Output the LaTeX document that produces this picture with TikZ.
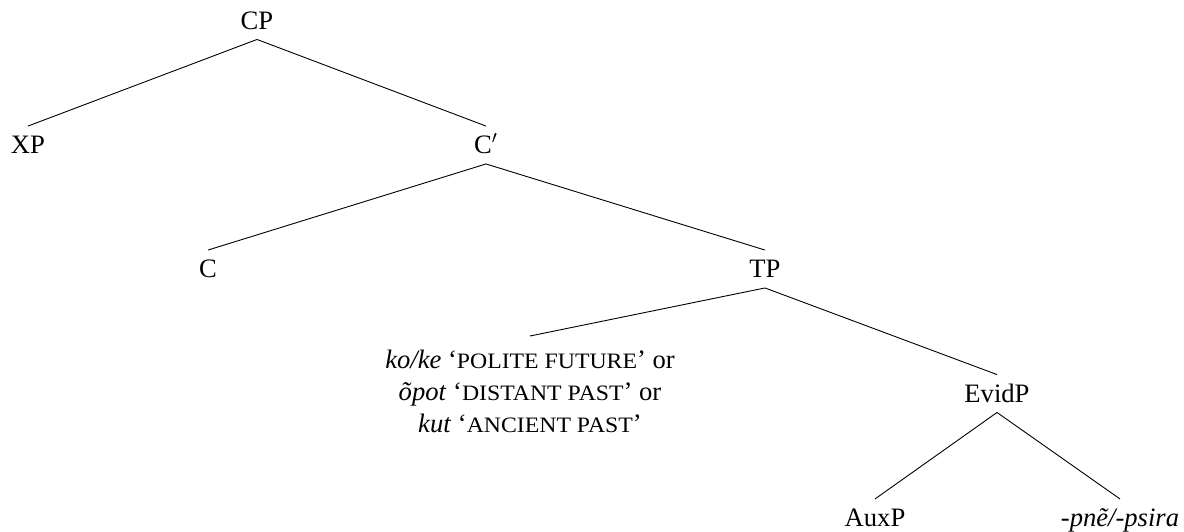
\documentclass[tikz,border=0pt]{standalone}
\usepackage{graphicx}
\usepackage{fontspec}
\setmainfont{Liberation Serif}
\usetikzlibrary{positioning}
\newcommand{\fakesc}[1]{\scalebox{1.08}[1]{\fontsize{11}{11}\selectfont #1}}

\begin{document}
\begin{tikzpicture}[x=1pt,y=1pt,line width=0.45pt,
  nd/.style={anchor=base,inner xsep=1pt,inner ysep=5pt,text height=8.5pt,text depth=0pt,font=\fontsize{13.3}{16}\selectfont}]
  \useasboundingbox (0,0) rectangle (592,-265.5);
  \node[nd](cp) at (128.5,-14.5) {CP};
  \node[nd](xp) at (14,-76.75) {XP};
  \node[nd](cbar) at (243,-76.75) {C$'$};
  \node[nd](c) at (104,-138.75) {C};
  \node[nd](tp) at (382.5,-138.75) {TP};
  \node[anchor=north,inner ysep=7pt,align=center,font=\fontsize{13.3}{16}\selectfont](tense) at (265,-168)
    {\textit{ko/ke} ‘\fakesc{POLITE FUTURE}’ or\\
     \textit{õpot} ‘\fakesc{DISTANT PAST}’ or\\
     \textit{kut} ‘\fakesc{ANCIENT PAST}’};
  \node[nd](evid) at (498.5,-201) {EvidP};
  \node[nd](aux) at (437.5,-263.2) {AuxP};
  \node[nd](suff) at (560,-263.2) {\textit{-pnẽ/-psira}};
  \draw (cp.south)--(xp.north);
  \draw (cp.south)--(cbar.north);
  \draw (cbar.south)--(c.north);
  \draw (cbar.south)--(tp.north);
  \draw (tp.south)--(tense.north);
  \draw (tp.south)--(evid.north);
  \draw (evid.south)--(aux.north);
  \draw (evid.south)--(suff.north);
\end{tikzpicture}
\end{document}
